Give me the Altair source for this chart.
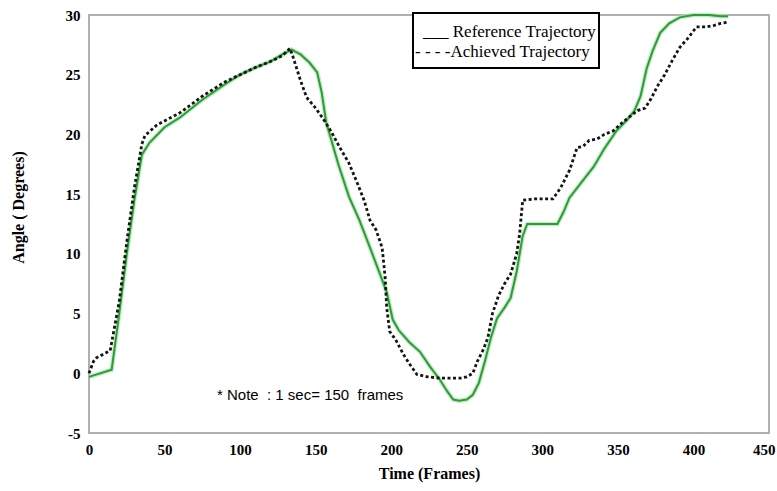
import altair as alt
import pandas as pd

# Reference trajectory (green solid)
ref_frames = [0, 15, 20, 25, 30, 35, 40, 50, 60, 75, 90, 100, 110, 120, 128, 134,
              140, 146, 151, 154, 157, 165, 172, 179, 186, 192, 197, 201, 205, 212,
              219, 226, 232, 237, 241, 245, 250, 254, 258, 262, 266, 270, 275, 279,
              283, 287, 290, 300, 310, 314, 318, 326, 334, 341, 349, 356, 361, 365,
              369, 373, 378, 384, 391, 400, 410, 418, 423]
ref_angle = [-0.3, 0.3, 5.0, 10.0, 14.5, 18.3, 19.3, 20.6, 21.4, 22.9, 24.2, 25.0,
             25.6, 26.1, 26.7, 27.1, 26.7, 26.0, 25.2, 23.5, 21.0, 17.5, 14.8, 12.8,
             10.5, 8.5, 6.8, 4.5, 3.6, 2.6, 1.8, 0.5, -0.5, -1.5, -2.2, -2.3, -2.2,
             -1.8, -0.8, 1.0, 3.0, 4.6, 5.5, 6.3, 8.5, 11.5, 12.5, 12.5, 12.5, 13.5,
             14.7, 16.0, 17.3, 18.8, 20.3, 21.2, 22.0, 23.2, 25.5, 27.0, 28.5, 29.3,
             29.8, 30.0, 30.0, 29.9, 29.9]

# Achieved trajectory (black dashed)
ach_frames = [0, 3, 5, 14, 20, 25, 30, 35, 37, 45, 60, 75, 90, 100, 110, 120, 128,
              133, 135, 140, 144, 150, 155, 160, 166, 172, 177, 182, 186, 190, 194,
              196, 197, 199, 203, 208, 212, 217, 224, 232, 240, 246, 250, 254, 257,
              261, 264, 267, 271, 275, 279, 283, 285, 287, 295, 303, 307, 312, 318,
              323, 327, 331, 336, 341, 347, 353, 358, 363, 368, 372, 376, 381, 386,
              391, 396, 402, 408, 413, 418, 423]
ach_angle = [0.0, 1.0, 1.3, 1.9, 6.0, 11.0, 15.5, 19.2, 19.9, 20.8, 21.8, 23.2, 24.4,
             25.0, 25.6, 26.1, 26.6, 27.2, 26.5, 24.5, 23.1, 22.2, 21.3, 20.3, 18.9,
             17.6, 16.1, 14.5, 12.8, 12.0, 10.5, 8.0, 5.5, 3.5, 2.8, 1.6, 0.8, -0.1,
             -0.3, -0.4, -0.4, -0.4, -0.3, 0.0, 1.0, 2.0, 3.0, 5.0, 6.5, 7.5, 8.3,
             10.0, 11.7, 14.5, 14.6, 14.6, 14.6, 15.5, 17.0, 18.9, 19.0, 19.5, 19.6,
             20.0, 20.3, 21.0, 21.5, 22.0, 22.2, 23.0, 24.0, 25.0, 26.2, 27.3, 28.0,
             29.0, 29.0, 29.1, 29.3, 29.4]

x_ticks = [0, 50, 100, 150, 200, 250, 300, 350, 400, 450]
y_ticks = [-5, 0, 5, 10, 15, 20, 25, 30]

legend_lines = ["___ Reference Trajectory", "- - - -Achieved Trajectory"]
note_text = "* Note \u00a0: 1 sec= 150 \u00a0frames"

ref_df = pd.DataFrame({"frame": ref_frames, "angle": ref_angle})
ach_df = pd.DataFrame({"frame": ach_frames, "angle": ach_angle})

serif = "Liberation Serif"

x_enc = alt.X("frame:Q", scale=alt.Scale(domain=[0, 450], nice=False),
              axis=alt.Axis(values=x_ticks, title="Time (Frames)", grid=False,
                            ticks=False, domain=False, labelFont=serif,
                            labelFontWeight="bold", labelFontSize=15,
                            labelColor="black", labelPadding=9,
                            labelFlush=False,
                            labelAlign={"condition": {"test": "datum.value == 450", "value": "right"},
                                        "value": "center"},
                            labelOffset={"condition": {"test": "datum.value == 450", "value": 6},
                                         "value": 0},
                            titleFont=serif, titleFontWeight="bold",
                            titleFontSize=16, titleColor="black",
                            titlePadding=8))
y_enc = alt.Y("angle:Q", scale=alt.Scale(domain=[-5, 30], nice=False),
              axis=alt.Axis(values=y_ticks, title="Angle ( Degrees)", grid=False,
                            ticks=False, domain=False, labelFont=serif,
                            labelFontWeight="bold", labelFontSize=15,
                            labelColor="black", labelPadding=9,
                            labelFlush=False,
                            labelExpr="toString(datum.value)",
                            titleFont=serif, titleFontWeight="bold",
                            titleFontSize=16, titleColor="black",
                            titleX=-71, titleY=192, titleAngle=270,
                            titleBaseline="middle", titleAlign="center"))

halo = alt.Chart(ref_df).mark_line(color="#a8e6a8", strokeWidth=4.5, opacity=0.7).encode(
    x=x_enc, y=y_enc, order="frame:Q")
ref_line = alt.Chart(ref_df).mark_line(color="#2f9a3c", strokeWidth=2).encode(
    x="frame:Q", y="angle:Q", order="frame:Q")
ach_line = alt.Chart(ach_df).mark_line(color="#151515", strokeWidth=2.8,
                                       strokeDash=[3, 2.5]).encode(
    x="frame:Q", y="angle:Q", order="frame:Q")

legend_box = alt.Chart(pd.DataFrame({"k": [0]})).mark_rect(
    fill="white", stroke="black", strokeWidth=2).encode(
    x=alt.value(324), x2=alt.value(510), y=alt.value(-2), y2=alt.value(53))

leg_df = pd.DataFrame({"label": legend_lines, "row": [0, 1]})
legend_text1 = alt.Chart(leg_df[leg_df.row == 0]).mark_text(
    font=serif, fontSize=17, align="left", baseline="alphabetic", color="black").encode(
    text="label:N", x=alt.value(334), y=alt.value(22))
legend_text2 = alt.Chart(leg_df[leg_df.row == 1]).mark_text(
    font=serif, fontSize=17, align="left", baseline="alphabetic", color="black").encode(
    text="label:N", x=alt.value(326), y=alt.value(42))

note = alt.Chart(pd.DataFrame({"t": [note_text]})).mark_text(
    font="Liberation Sans", fontSize=15, align="left", baseline="middle",
    color="black").encode(text="t:N", x=alt.value(128), y=alt.value(380))

chart = alt.layer(halo, ref_line, ach_line, legend_box, legend_text1, legend_text2, note).properties(
    width=680, height=418,
    autosize=alt.AutoSizeParams(type="none"),
    padding={"left": 89, "top": 15, "right": 8, "bottom": 58},
    background="white",
).configure_view(stroke="#b0b0b0", strokeWidth=2)

chart.save("out.html", embed_options={"renderer": "svg", "actions": False})
